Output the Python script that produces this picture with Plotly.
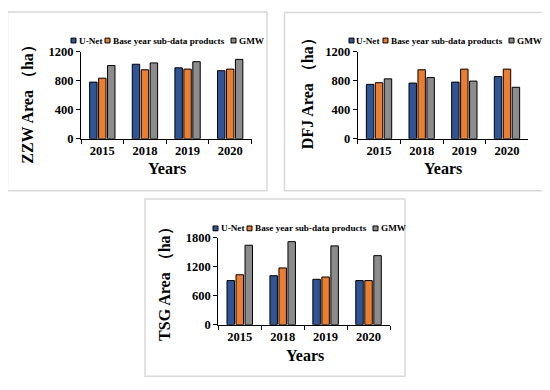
import plotly.graph_objects as go

years = ["2015", "2018", "2019", "2020"]
series_names = ["U-Net", "Base year sub-data products", "GMW"]

zzw_unet = [780, 1026, 977, 937]
zzw_base = [834, 950, 959, 959]
zzw_gmw = [1008, 1044, 1061, 1093]

dfj_unet = [749, 767, 780, 856]
dfj_base = [772, 950, 959, 959]
dfj_gmw = [825, 843, 794, 709]

tsg_unet = [914, 1015, 941, 914]
tsg_base = [1035, 1176, 988, 914]
tsg_gmw = [1646, 1720, 1633, 1431]

y_titles = ["ZZW Area （ha）", "DFJ Area （ha）", "TSG Area （ha）"]
y_ranges = [[0, 1200], [0, 1200], [0, 1800]]
y_dticks = [400, 400, 600]

colors = ["#2F5597", "#ED7D31", "#8C8C8C"]
FONT = "Times New Roman, Liberation Serif, serif"
OFF = 8  # page body margin
W, H = 550 - OFF, 390 - OFF


def X(px):
    return (px - OFF) / W


def Y(py):
    return 1 - (py - OFF) / H


panels = [
    dict(data=[zzw_unet, zzw_base, zzw_gmw], px=(81, 251.5), py=(46, 136.5),
         box=(7.5, 5, 267, 190.5), ytitle=(28, 97), xtitle=(167, 167), leg=(71, 34.5)),
    dict(data=[dfj_unet, dfj_base, dfj_gmw], px=(357.7, 528.3), py=(46, 136.5),
         box=(284.5, 5.5, 543, 190.5), ytitle=(308, 86), xtitle=(443, 167), leg=(349, 34.5)),
    dict(data=[tsg_unet, tsg_base, tsg_gmw], px=(218.3, 390), py=(239.3, 329.5),
         box=(145, 199, 405, 383), ytitle=(165, 283), xtitle=(305, 361), leg=(213, 229.5)),
]

fig = go.Figure()
layout = dict(
    width=W, height=H, margin=dict(l=0, r=0, t=0, b=0),
    paper_bgcolor="white", plot_bgcolor="white",
    barmode="group", bargap=0.37, bargroupgap=0.17,
    showlegend=False, font=dict(family=FONT, color="black"),
)
shapes = []
annotations = []

for i, p in enumerate(panels):
    n = "" if i == 0 else str(i + 1)
    for j, vals in enumerate(p["data"]):
        fig.add_trace(go.Bar(
            x=years, y=vals, name=series_names[j],
            marker=dict(color=colors[j], line=dict(color="black", width=1)),
            xaxis="x" + n, yaxis="y" + n, offsetgroup=str(j),
        ))
    layout["xaxis" + n] = dict(
        domain=[X(p["px"][0]), X(p["px"][1])], anchor="y" + n,
        type="category", showline=True, linecolor="black", linewidth=1,
        ticks="outside", tickson="boundaries", ticklen=4, tickcolor="black",
        showgrid=False, zeroline=False,
        tickfont=dict(family=FONT, size=12.5, weight="bold", color="black"),
    )
    layout["yaxis" + n] = dict(
        domain=[Y(p["py"][1]), Y(p["py"][0])], anchor="x" + n,
        range=y_ranges[i], dtick=y_dticks[i], showline=True, linecolor="black",
        linewidth=1, ticks="outside", ticklen=4, tickcolor="black",
        showgrid=False, zeroline=False,
        tickfont=dict(family=FONT, size=12.5, weight="bold", color="black"),
    )
    bx0, by0, bx1, by1 = p["box"]
    shapes.append(dict(type="rect", xref="paper", yref="paper",
                       x0=X(bx0), x1=X(bx1), y0=Y(by1), y1=Y(by0),
                       line=dict(color="#D9D9D9", width=1.5), layer="below"))
    annotations.append(dict(text=y_titles[i], x=X(p["ytitle"][0]), y=Y(p["ytitle"][1]),
                            xref="paper", yref="paper", showarrow=False, textangle=-90,
                            xanchor="center", yanchor="middle",
                            font=dict(family=FONT, size=16, weight="bold", color="black")))
    annotations.append(dict(text="Years", x=X(p["xtitle"][0]), y=Y(p["xtitle"][1]),
                            xref="paper", yref="paper", showarrow=False,
                            xanchor="center", yanchor="middle",
                            font=dict(family=FONT, size=16, weight="bold", color="black")))
    # compact legend, as in the reference
    lx, ly = p["leg"]
    offsets = [0, 34, 160]
    for j, name in enumerate(series_names):
        sx = lx + offsets[j]
        shapes.append(dict(type="rect", xref="paper", yref="paper",
                           x0=X(sx), x1=X(sx + 5), y0=Y(ly + 2.5), y1=Y(ly - 2.5),
                           fillcolor=colors[j], line=dict(color="black", width=1)))
        annotations.append(dict(text=name, x=X(sx + 5.5), y=Y(ly), xref="paper", yref="paper",
                                showarrow=False, xanchor="left", yanchor="middle",
                                font=dict(family=FONT, size=9.2, weight="bold", color="black")))

layout["shapes"] = shapes
layout["annotations"] = annotations
fig.update_layout(**layout)
fig.write_html("out.html")
